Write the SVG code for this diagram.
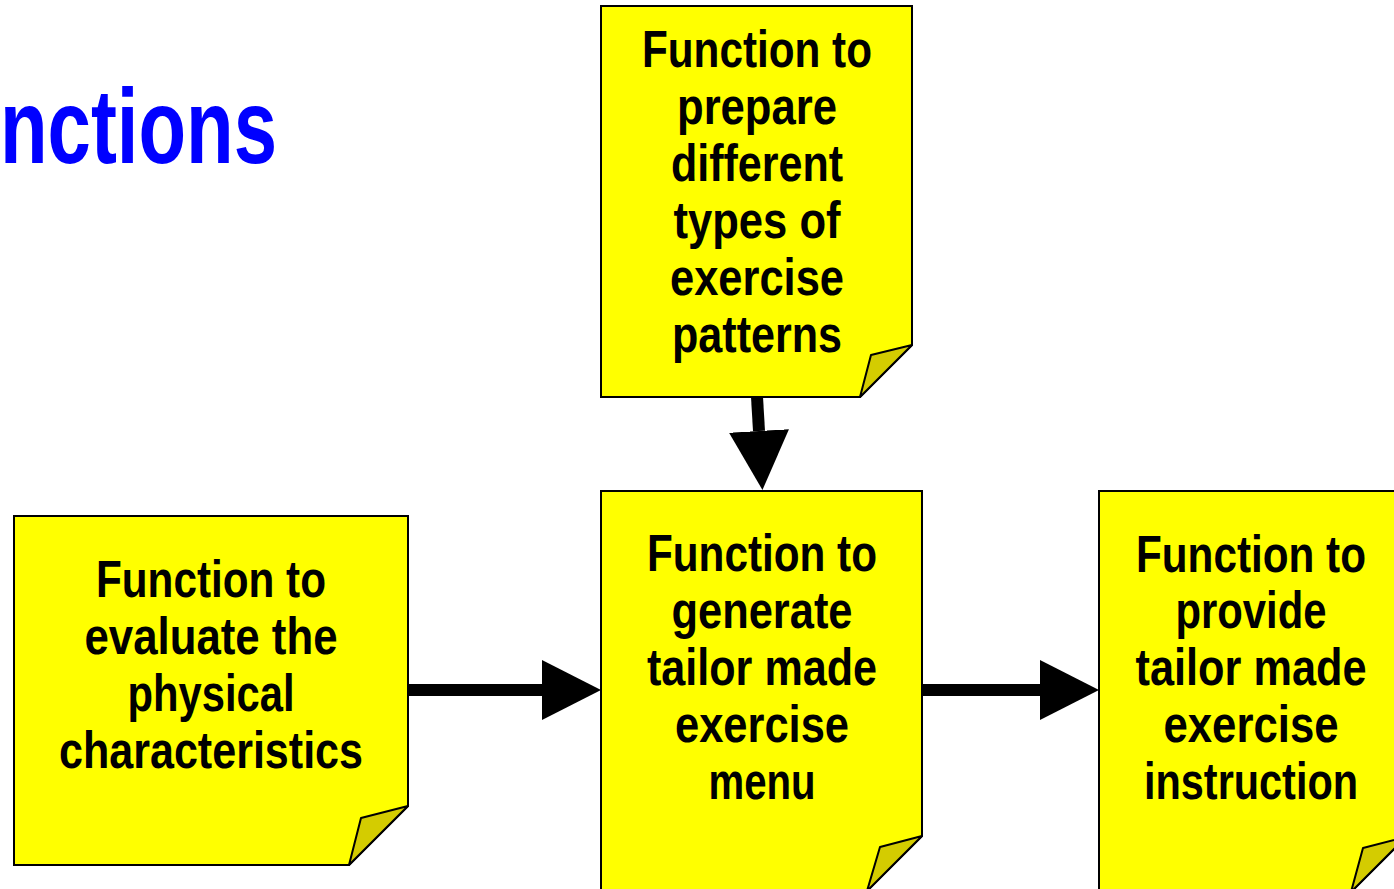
<svg xmlns="http://www.w3.org/2000/svg" width="1394" height="889" viewBox="0 0 1394 889">
<style>
.note{fill:#FFFF00;stroke:#000;stroke-width:2;stroke-linejoin:miter}
.fold{fill:#D4CC00;stroke:#000;stroke-width:2;stroke-linejoin:round}
.t{font-family:"Liberation Sans",Arial,sans-serif;font-weight:bold;font-size:52px;fill:#000;text-anchor:middle}
.title{font-family:"Liberation Sans",Arial,sans-serif;font-weight:bold;font-size:106px;fill:#0000FF}
.conn{stroke:#000;stroke-width:12;fill:none}
</style>
<defs>
<marker id="ah" markerUnits="userSpaceOnUse" markerWidth="60" markerHeight="60" viewBox="0 0 60 60" refX="0" refY="30" orient="auto">
<path d="M0,0 L59,30 L0,60 z" fill="#000"/>
</marker>
</defs>
<rect width="1394" height="889" fill="#fff"/>
<text class="title" x="0" y="163" textLength="277" lengthAdjust="spacingAndGlyphs">nctions</text>

<g id="node-prepare">
<path class="note" d="M601,6 H912 V345 L860,397 H601 Z"/>
<path class="fold" d="M912,345 L871,355 L860,397 Z"/>
<text class="t" x="757" y="67" textLength="230" lengthAdjust="spacingAndGlyphs">Function to</text>
<text class="t" x="757" y="124" textLength="160" lengthAdjust="spacingAndGlyphs">prepare</text>
<text class="t" x="757" y="181" textLength="172" lengthAdjust="spacingAndGlyphs">different</text>
<text class="t" x="757" y="238" textLength="167" lengthAdjust="spacingAndGlyphs">types of</text>
<text class="t" x="757" y="295" textLength="174" lengthAdjust="spacingAndGlyphs">exercise</text>
<text class="t" x="757" y="352" textLength="170" lengthAdjust="spacingAndGlyphs">patterns</text>
</g>

<g id="node-evaluate">
<path class="note" d="M14,516 H408 V806 L349,865 H14 Z"/>
<path class="fold" d="M408,806 L361,818 L349,865 Z"/>
<text class="t" x="211" y="597" textLength="230" lengthAdjust="spacingAndGlyphs">Function to</text>
<text class="t" x="211" y="654" textLength="253" lengthAdjust="spacingAndGlyphs">evaluate the</text>
<text class="t" x="211" y="711" textLength="167" lengthAdjust="spacingAndGlyphs">physical</text>
<text class="t" x="211" y="768" textLength="304" lengthAdjust="spacingAndGlyphs">characteristics</text>
</g>

<g id="node-generate">
<path class="note" d="M601,491 H922 V836 L867,891 H601 Z"/>
<path class="fold" d="M922,836 L880,847 L867,891 Z"/>
<text class="t" x="762" y="571" textLength="230" lengthAdjust="spacingAndGlyphs">Function to</text>
<text class="t" x="762" y="628" textLength="181" lengthAdjust="spacingAndGlyphs">generate</text>
<text class="t" x="762" y="685" textLength="230" lengthAdjust="spacingAndGlyphs">tailor made</text>
<text class="t" x="762" y="742" textLength="174" lengthAdjust="spacingAndGlyphs">exercise</text>
<text class="t" x="762" y="799" textLength="107" lengthAdjust="spacingAndGlyphs">menu</text>
</g>

<g id="node-provide">
<path class="note" d="M1099,491 H1406 V837 L1351,892 H1099 Z"/>
<path class="fold" d="M1406,837 L1363,848 L1351,892 Z"/>
<text class="t" x="1251" y="572" textLength="230" lengthAdjust="spacingAndGlyphs">Function to</text>
<text class="t" x="1251" y="628" textLength="151" lengthAdjust="spacingAndGlyphs">provide</text>
<text class="t" x="1251" y="685" textLength="231" lengthAdjust="spacingAndGlyphs">tailor made</text>
<text class="t" x="1251" y="742" textLength="175" lengthAdjust="spacingAndGlyphs">exercise</text>
<text class="t" x="1251" y="799" textLength="214" lengthAdjust="spacingAndGlyphs">instruction</text>
</g>

<g id="connectors">
<line class="conn" x1="757" y1="397" x2="759" y2="431" marker-end="url(#ah)"/>
<line class="conn" x1="408" y1="690" x2="542" y2="690" marker-end="url(#ah)"/>
<line class="conn" x1="922" y1="690" x2="1040" y2="690" marker-end="url(#ah)"/>
</g>
</svg>
